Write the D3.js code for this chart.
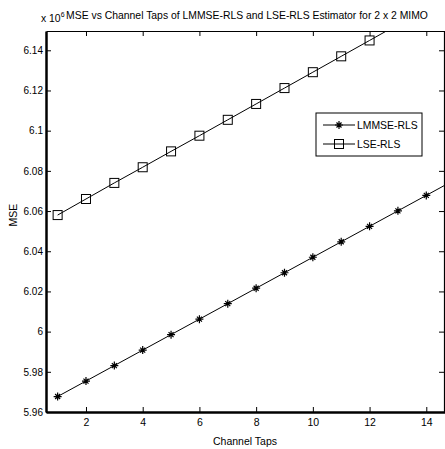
<!DOCTYPE html>
<html>
<head>
<style>
  body { margin: 0; background: #fff; }
  text { font-family: "Liberation Sans", Arial, sans-serif; }
</style>
</head>
<body>
<svg width="445" height="449"></svg>
<script src="https://cdn.jsdelivr.net/npm/d3@7/dist/d3.min.js"></script>
<script>
var taps = [1, 2, 3, 4, 5, 6, 7, 8, 9, 10, 11, 12, 13, 14, 15];
var lmmse = [5.9677, 5.9754, 5.9831, 5.9908, 5.9985, 6.0062, 6.0139, 6.0216, 6.0293, 6.0370, 6.0447, 6.0524, 6.0601, 6.0678, 6.0755];
var lse = [6.0580, 6.0660, 6.0740, 6.0818, 6.0897, 6.0975, 6.1054, 6.1133, 6.1212, 6.1291, 6.1370, 6.1449, 6.1528, 6.1607, 6.1686];
var xTicks = [2, 4, 6, 8, 10, 12, 14];
var yTicks = [5.96, 5.98, 6, 6.02, 6.04, 6.06, 6.08, 6.1, 6.12, 6.14];
var names = ["LMMSE-RLS", "LSE-RLS"];

var svg = d3.select("svg");
var mLeft = 46, mRight = 445, mTop = 31, mBottom = 412;

var x = d3.scaleLinear().domain([0.59, 14.66]).range([mLeft, mRight]);
var y = d3.scaleLinear().domain([5.96, 6.1496]).range([mBottom, mTop]);

svg.append("defs").append("clipPath").attr("id", "clip")
  .append("rect").attr("x", mLeft).attr("y", mTop).attr("width", mRight - mLeft).attr("height", mBottom - mTop);

// axes, ticks pointing inward
var xb = svg.append("g").attr("transform", "translate(0," + mBottom + ")")
  .call(d3.axisBottom(x).tickValues(xTicks).tickSizeInner(-5).tickSizeOuter(0).tickPadding(7));
var xt = svg.append("g").attr("transform", "translate(0," + mTop + ")")
  .call(d3.axisTop(x).tickValues(xTicks).tickSizeInner(-5).tickSizeOuter(0).tickFormat(""));
var yl = svg.append("g").attr("transform", "translate(" + mLeft + ",0)")
  .call(d3.axisLeft(y).tickValues(yTicks).tickSizeInner(-5).tickSizeOuter(0).tickPadding(3)
    .tickFormat(function(d) { return String(+d.toFixed(2)); }));
var yr = svg.append("g").attr("transform", "translate(" + (mRight - 1) + ",0)")
  .call(d3.axisRight(y).tickValues(yTicks).tickSizeInner(-5).tickSizeOuter(0).tickFormat(""));

svg.selectAll(".domain").attr("stroke", "#000").attr("stroke-width", 1.2);
svg.selectAll(".tick line").attr("stroke", "#000");
svg.selectAll(".tick text").attr("font-size", 10.5).attr("fill", "#000")
  .attr("font-family", "'Liberation Sans', Arial, sans-serif");
yl.selectAll(".tick text").attr("font-size", 10);
yl.select(".domain").attr("stroke-width", 2.5);
xb.select(".domain").attr("stroke-width", 2.5);

// series
var plot = svg.append("g").attr("clip-path", "url(#clip)");
var line = d3.line().x(function(d) { return x(d[0]); }).y(function(d) { return y(d[1]); });
var s1 = d3.zip(taps, lmmse), s2 = d3.zip(taps, lse);

plot.append("path").datum(s1).attr("d", line).attr("fill", "none").attr("stroke", "#000").attr("stroke-width", 1);
plot.append("path").datum(s2).attr("d", line).attr("fill", "none").attr("stroke", "#000").attr("stroke-width", 1);

var star = function(g, cx, cy) {
  g.append("path")
    .attr("d", "M" + (cx - 4) + "," + cy + "H" + (cx + 4) + "M" + cx + "," + (cy - 4) + "V" + (cy + 4) +
      "M" + (cx - 2.5) + "," + (cy - 2.5) + "L" + (cx + 2.5) + "," + (cy + 2.5) +
      "M" + (cx - 2.5) + "," + (cy + 2.5) + "L" + (cx + 2.5) + "," + (cy - 2.5))
    .attr("stroke", "#000").attr("stroke-width", 1.2).attr("fill", "none");
};
var square = function(g, cx, cy) {
  g.append("rect").attr("x", cx - 4.5).attr("y", cy - 4.5).attr("width", 9).attr("height", 9)
    .attr("fill", "none").attr("stroke", "#000").attr("stroke-width", 1);
};
s1.forEach(function(d) { star(plot, x(d[0]), y(d[1])); });
s2.forEach(function(d) { square(plot, x(d[0]), y(d[1])); });

// labels
svg.append("text").attr("x", 245).attr("y", 445).attr("text-anchor", "middle")
  .attr("font-size", 10.5).text("Channel Taps");
svg.append("text").attr("transform", "translate(17,215) rotate(-90)").attr("text-anchor", "middle")
  .attr("font-size", 10.5).text("MSE");
svg.append("text").attr("x", 247).attr("y", 19).attr("text-anchor", "middle")
  .attr("font-size", 10.4).text("MSE vs Channel Taps of LMMSE-RLS and LSE-RLS Estimator for 2 x 2 MIMO");
var ex = svg.append("text").attr("x", 41).attr("y", 22).attr("font-size", 10.4);
ex.append("tspan").text("x 10");
ex.append("tspan").attr("font-size", 7).attr("dy", -5).text("6");

// legend
var lg = svg.append("g");
lg.append("rect").attr("x", 316).attr("y", 113).attr("width", 106).attr("height", 43)
  .attr("fill", "#fff").attr("stroke", "#000").attr("stroke-width", 1);
[0, 1].forEach(function(i) {
  var ly = 125 + i * 19;
  lg.append("line").attr("x1", 323).attr("x2", 355).attr("y1", ly).attr("y2", ly).attr("stroke", "#000");
  if (i === 0) star(lg, 339, ly); else square(lg, 339, ly);
  lg.append("text").attr("x", 357).attr("y", ly + 4).attr("font-size", 10.4).text(names[i]);
});
</script>
</body>
</html>
